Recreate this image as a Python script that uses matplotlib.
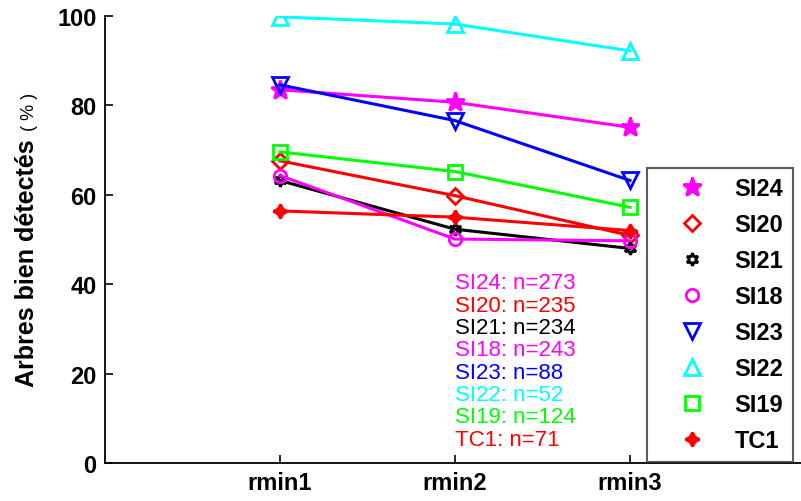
import matplotlib
matplotlib.use('Agg')
import matplotlib.pyplot as plt
from matplotlib.lines import Line2D

plt.rcParams['font.family'] = ['Liberation Sans', 'DejaVu Sans']

categories = ['rmin1', 'rmin2', 'rmin3']
series_names = ['SI24', 'SI20', 'SI21', 'SI18', 'SI23', 'SI22', 'SI19', 'TC1']
si24 = [83.5, 80.7, 75.1]
si20 = [67.6, 59.8, 50.9]
si21 = [63.2, 52.3, 48.0]
si18 = [64.3, 50.1, 49.7]
si23 = [84.6, 76.6, 63.2]
si22 = [99.8, 98.2, 92.2]
si19 = [69.6, 65.2, 57.2]
tc1 = [56.4, 55.0, 52.0]
counts = [273, 235, 234, 243, 88, 52, 124, 71]
yticks = [0, 20, 40, 60, 80, 100]

values = [si24, si20, si21, si18, si23, si22, si19, tc1]
colors = ['#ff00ff', '#ff0000', '#000000', '#ff00ff', '#0000ff', '#00ffff', '#00ff00', '#ff0000']
markers = ['*', 'D', (6, 1, 0), 'o', 'v', '^', 's', (4, 1, 0)]
msizes = [14, 8, 9, 9, 11, 12, 10, 10]
filled = [True, False, False, False, False, False, False, True]

fig = plt.figure(figsize=(8.01, 5.02), dpi=100)
ax = fig.add_axes([105 / 801, 38 / 502, 696 / 801, 447 / 502])

x = list(range(1, len(categories) + 1))
handles = []
for name, vals, c, m, ms, f in zip(series_names, values, colors, markers, msizes, filled):
    ax.plot(x, vals, color=c, lw=2.2, marker=m, markersize=ms,
            markerfacecolor=c if f else 'none', markeredgecolor=c, markeredgewidth=2)
    handles.append(Line2D([], [], ls='none', marker=m, markersize=ms, color=c,
                          markerfacecolor=c if f else 'none', markeredgewidth=2, label=name))

# n counts text block
for i, (name, n, c) in enumerate(zip(series_names, counts, colors)):
    ax.text(2.0, 40.3 - 5.0 * i, f'{name}: n={n}', color=c, fontsize=16, va='center', ha='left')

ax.set_xlim(0, 696 / 175)
ax.set_ylim(0, 100)
ax.set_xticks(x)
ax.set_xticklabels(categories, fontsize=17, fontweight='bold')
ax.set_yticks(yticks)
ax.set_yticklabels([str(t) for t in yticks], fontsize=17, fontweight='bold')
ax.tick_params(direction='in', length=6, width=1.2, pad=6)
for s in ['top', 'right']:
    ax.spines[s].set_visible(False)
for s in ['left', 'bottom']:
    ax.spines[s].set_linewidth(1.3)

# y label: bold words, lighter "(%)"
fig.text(27 / 801, 1 - 263 / 502, 'Arbres bien détectés', rotation=90, fontsize=18,
         fontweight='bold', ha='center', va='center')
fig.text(29 / 801, 1 - 112 / 502, '( % )', rotation=90, fontsize=13,
         ha='center', va='center')

leg = fig.legend(handles=handles, loc='upper left', bbox_to_anchor=(647 / 801, 1 - 169 / 502),
                 borderaxespad=0, frameon=True, fancybox=False, handlelength=3.0,
                 handletextpad=0.3, labelspacing=0.55, borderpad=0.4,
                 prop={'size': 17, 'weight': 'bold'})
leg.get_frame().set_edgecolor('#333333')
leg.get_frame().set_linewidth(1.5)

fig.savefig('out.png', dpi=100)
